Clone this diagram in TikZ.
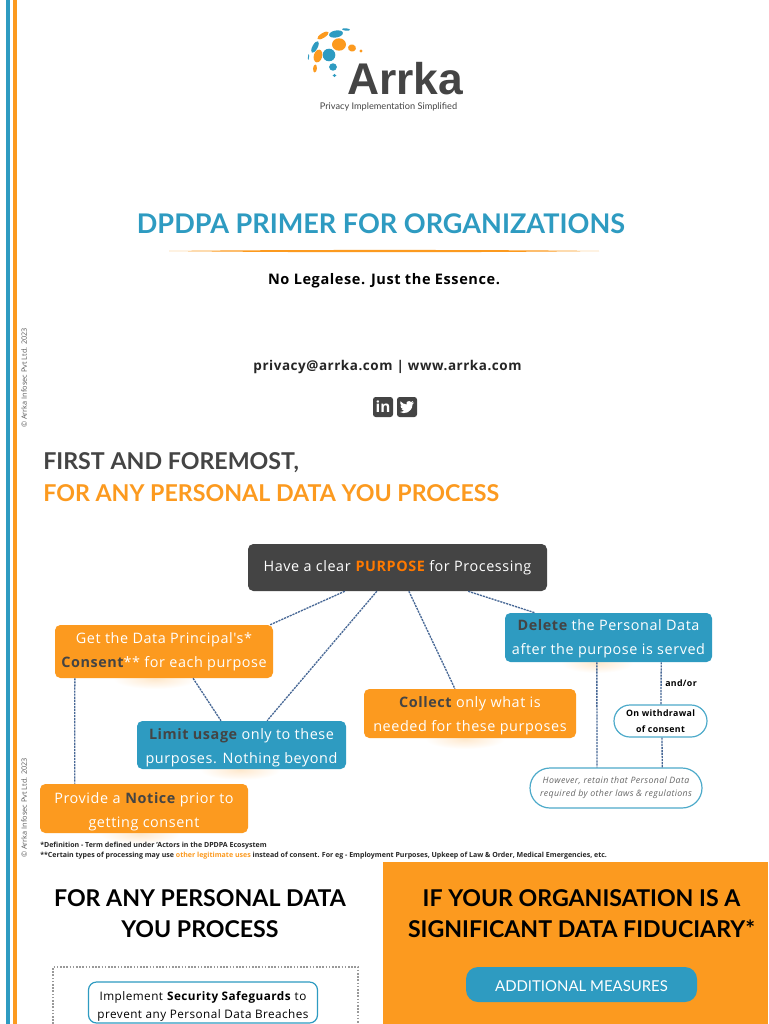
\documentclass[tikz,border=0pt]{standalone}
\usepackage{fontspec}
\usetikzlibrary{calc,positioning}
\setmainfont{Open Sans}
\newfontfamily\headfont{Lato}
\newfontfamily\logofont{Liberation Sans}
\newfontfamily\bodyfont[LetterSpace=4]{Open Sans}
\definecolor{ArrkaBlue}{RGB}{46,155,193}
\definecolor{ArrkaOrange}{RGB}{252,154,31}
\definecolor{ArrkaDark}{RGB}{68,68,68}
\definecolor{LinkBlue}{RGB}{72,104,150}
\newcommand{\px}{0.75pt}
\newcommand{\darkword}[1]{\textbf{\textcolor{ArrkaDark}{#1}}}
\newcommand{\topgap}[1]{\rule{0pt}{\dimexpr8.2pt+#1\relax}}
\newcommand{\logodot}[6]{\fill[#1, shift={(#2,#3)}, rotate=#6] (0,0) ellipse [x radius=#4*\px, y radius=#5*\px];}
\tikzset{
  flatbox/.style={rounded corners=4pt, align=center, text=white, inner sep=0pt,
    font=\bodyfont\fontsize{10.8}{18}\selectfont},
  orangebox/.style={flatbox, fill=ArrkaOrange},
  bluebox/.style={flatbox, fill=ArrkaBlue},
  darkbox/.style={flatbox, fill=ArrkaDark},
  pillbox/.style={draw=ArrkaBlue!85, fill=white, line width=0.9pt, rounded corners=12pt,
    align=center, inner sep=0pt},
  linkline/.style={draw=LinkBlue, line width=1pt, dash pattern=on 1.6pt off 0.7pt},
  glow/.style={inner color=ArrkaOrange!22, outer color=white},
  heading/.style={font=\headfont\bfseries\fontsize{17.4}{22}\selectfont, anchor=west, inner sep=0pt},
  bighead/.style={font=\headfont\bfseries\fontsize{17.35}{23.2}\selectfont, align=center, inner sep=0pt, text=black},
  smallnote/.style={font=\fontsize{5.28}{7}\selectfont\bfseries, anchor=west, inner sep=0pt, text=black!85},
  copyline/.style={font=\fontsize{5.5}{6}\selectfont, rotate=90, inner sep=0pt, text=black!65},
  iconbox/.style={fill=ArrkaDark, rounded corners=2pt, minimum size=20*\px, inner sep=0pt, text=white}
}
\begin{document}
\begin{tikzpicture}[x=\px,y=-\px]
  \useasboundingbox (0,0) rectangle (768,1024);
  \fill[white] (0,0) rectangle (768,1024);
  % side stripes
  \fill[ArrkaBlue] (6,0) rectangle (10,1024);
  \fill[ArrkaOrange] (13,0) rectangle (17,1024);
  \node[copyline] (copytop) at (24,378) {© Arrka Infosec Pvt Ltd. 2023};
  \node[copyline] (copybottom) at (24,808) {© Arrka Infosec Pvt Ltd. 2023};

  % logo
  \logodot{ArrkaBlue}{329}{55}{6.3}{6.3}{0}
  \logodot{ArrkaOrange}{339}{44.5}{7}{6.2}{0}
  \logodot{ArrkaOrange}{352}{48}{4}{3.6}{-15}
  \logodot{ArrkaOrange}{361}{51}{1.6}{1.6}{0}
  \logodot{ArrkaBlue}{336}{34}{7}{3.5}{10}
  \logodot{ArrkaBlue}{346}{29.5}{4}{1.2}{-5}
  \logodot{ArrkaOrange}{323}{35.5}{6.5}{2.4}{32}
  \logodot{ArrkaBlue}{315}{47}{6.5}{2.6}{62}
  \logodot{ArrkaOrange}{318}{56}{6.5}{4.2}{75}
  \logodot{ArrkaBlue}{333}{67}{3.9}{3.7}{0}
  \logodot{ArrkaBlue}{334.5}{75.5}{1.8}{1.6}{0}
  \logodot{ArrkaOrange}{315}{68.5}{4}{1.9}{85}
  \logodot{ArrkaBlue}{308.5}{57}{3}{0.5}{85}
  \node[font=\logofont\bfseries\fontsize{33.3}{33}\selectfont, text=ArrkaDark, inner sep=0pt, anchor=base] (logoname) at (405,94) {Arrka};
  \node[font=\headfont\fontsize{6.9}{9}\selectfont, text=ArrkaDark, inner sep=0pt] (tagline) at (388.5,106.5) {Privacy Implementation Simplified};

  % title block
  \node[font=\headfont\bfseries\fontsize{20.3}{24}\selectfont, text=ArrkaBlue, inner sep=0pt] (title) at (381,223.5) {DPDPA PRIMER FOR ORGANIZATIONS};
  \fill[ArrkaOrange] (169,251) .. controls (280,249.6) and (490,249.6) .. (599,251) .. controls (490,252.6) and (280,252.6) .. (169,251) -- cycle;
  \node[font=\bodyfont\bfseries\fontsize{10.9}{13}\selectfont, text=black, inner sep=0pt] (motto) at (384,281) {No Legalese. Just the Essence.};
  \node[font=\bodyfont\bfseries\fontsize{10.1}{13}\selectfont, text=black!85, inner sep=0pt] (contact) at (387.5,366.5) {privacy@arrka.com | www.arrka.com};
  \node[iconbox, font=\bfseries\fontsize{11.5}{11.5}\selectfont] (linkedin) at (383,407) {in};
  \node[iconbox] (twitter) at (407,407) {};
  \fill[white] (400,412) .. controls (404,414.5) and (412,413) .. (412.5,404.5) -- (414,402.5) -- (412,403) -- (413.2,401) -- (411,402) .. controls (409,400) and (405.5,401.5) .. (406.5,404.5) .. controls (404,404.3) and (402,403) .. (400.5,401.3) .. controls (399.8,403) and (400.3,405) .. (402,406) -- (400.5,405.6) .. controls (400.5,407.5) and (401.5,408.5) .. (403,409) -- (401.5,409.2) .. controls (402,410.3) and (403,410.8) .. (404.2,411) .. controls (403,411.8) and (401.5,412.2) .. (400,412) -- cycle;

  \node[heading, text=ArrkaDark] (firsthead) at (43,463) {FIRST AND FOREMOST,};
  \node[heading, text=ArrkaOrange] (anyhead) at (43,493.5) {FOR ANY PERSONAL DATA YOU PROCESS};

  % soft glow under the boxes
  \foreach \gx/\gy/\gw in {155/679/42, 240/770/40, 140/834/40, 465/739/40, 597/663/36, 582/1003/50}
    \shade[glow] (\gx,\gy) ellipse [x radius=\gw*\px, y radius=10*\px];

  \node[darkbox, minimum width=299*\px, minimum height=47*\px] (purpose) at (397.5,567.5) {Have a clear \textbf{\textcolor{orange!95!red}{PURPOSE}} for Processing};
  \node[orangebox, minimum width=218*\px, minimum height=53*\px] (consent) at (164,651.5) {\topgap{0.8pt}Get the Data Principal's*\\\darkword{Consent}** for each purpose};
  \node[bluebox, minimum width=209*\px, minimum height=48*\px] (limit) at (241.5,745) {\topgap{3.8pt}\darkword{Limit usage} only to these\\purposes. Nothing beyond};
  \node[orangebox, minimum width=208*\px, minimum height=49*\px] (notice) at (144,808.5) {\topgap{5.2pt}Provide a \darkword{Notice} prior to\\getting consent};
  \node[orangebox, minimum width=212*\px, minimum height=49*\px] (collect) at (470,713.5) {\topgap{3pt}\darkword{Collect} only what is\\needed for these purposes};
  \node[bluebox, minimum width=207*\px, minimum height=49*\px] (delete) at (608.5,637.5) {\topgap{1.5pt}\darkword{Delete} the Personal Data\\after the purpose is served};
  \node[pillbox, minimum width=93*\px, minimum height=32*\px, font=\bodyfont\bfseries\fontsize{6.6}{11.6}\selectfont] (withdrawal) at (660.5,721) {On withdrawal\\of consent};
  \node[pillbox, rounded corners=15pt, minimum width=172*\px, minimum height=40*\px, text=black!60, font=\bodyfont\itshape\fontsize{6.6}{10}\selectfont] (retain) at (616,788) {However, retain that Personal Data\\required by other laws \& regulations};
  \node[font=\bodyfont\bfseries\fontsize{6.6}{8}\selectfont, inner sep=0pt] (andor) at (681,683) {and/or};

  \foreach \a/\f/\b/\g in {purpose/.324/consent/.986, purpose/.431/limit/.622, consent/.633/limit/.402,
      consent/.092/notice/.168, purpose/.538/collect/.429, purpose/.736/delete/.145,
      delete/.444/retain/.39, delete/.754/withdrawal/.505, withdrawal/.516/retain/.767}
    \draw[linkline] ($(\a.south west)!\f!(\a.south east)$) -- ($(\b.north west)!\g!(\b.north east)$);

  % footnotes
  \node[smallnote] (noteone) at (40,845.5) {*Definition - Term defined under 'Actors in the DPDPA Ecosystem};
  \node[smallnote] (notetwo) at (40,855.5) {**Certain types of processing may use \textcolor{ArrkaOrange}{other legitimate uses} instead of consent. For eg - Employment Purposes, Upkeep of Law \& Order, Medical Emergencies, etc.};

  % bottom panels
  \fill[ArrkaOrange] (383,862) rectangle (768,1024);
  \node[bighead] (anydata) at (200,913.5) {FOR ANY PERSONAL DATA\\YOU PROCESS};
  \node[bighead] (fiduciary) at (581.5,913.5) {IF YOUR ORGANISATION IS A\\SIGNIFICANT DATA FIDUCIARY*};
  \node[flatbox, fill=ArrkaBlue, rounded corners=9pt, minimum width=231*\px, minimum height=35*\px, font=\headfont\fontsize{11.2}{14}\selectfont] (measures) at (581.5,984.5) {\rule{0pt}{10pt}ADDITIONAL MEASURES};
  \draw[black!40, line width=1.6pt, dash pattern=on 1.2pt off 1.2pt] (53,1024) -- (53,967) -- (358,967) -- (358,1024);
  \node[pillbox, draw=ArrkaBlue, rounded corners=6pt, minimum width=229*\px, minimum height=41*\px, font=\bodyfont\fontsize{8.8}{13.4}\selectfont] (safeguards) at (203,1002.5) {\rule{0pt}{12.6pt}Implement \textbf{Security Safeguards} to\\prevent any Personal Data Breaches};
\end{tikzpicture}
\end{document}
